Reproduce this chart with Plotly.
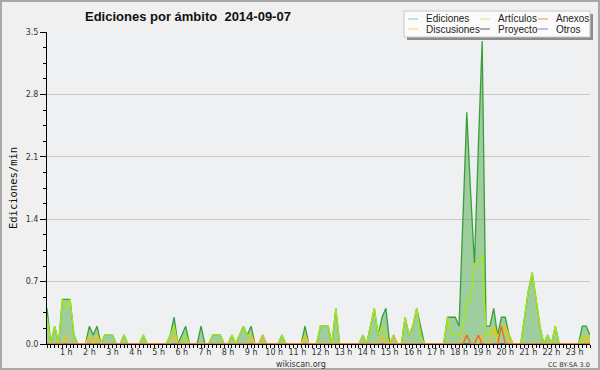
import plotly.graph_objects as go

# ---------------- data (edits per minute, 10-minute bins) ----------------
HOUR_TICKS = [1, 2, 3, 4, 5, 6, 7, 8, 9, 10, 11, 12, 13, 14, 15, 16, 17, 18, 19, 20, 21, 22, 23]
HOUR_LABELS = ["1 h", "2 h", "3 h", "4 h", "5 h", "6 h", "7 h", "8 h", "9 h", "10 h", "11 h", "12 h",
               "13 h", "14 h", "15 h", "16 h", "17 h", "18 h", "19 h", "20 h", "21 h", "22 h", "23 h"]

EDICIONES = [
    0.4, 0, 0.2, 0, 0.5, 0.5, 0.5, 0.1, 0, 0, 0, 0.2,
    0.1, 0.2, 0, 0.1, 0.1, 0.1, 0, 0, 0.1, 0, 0, 0,
    0, 0.1, 0, 0, 0, 0, 0, 0, 0.1, 0.3, 0, 0.1,
    0.2, 0, 0, 0, 0.2, 0, 0, 0.1, 0.1, 0.1, 0, 0,
    0.1, 0, 0.1, 0.2, 0.1, 0.2, 0, 0, 0.1, 0, 0, 0,
    0, 0.1, 0, 0, 0, 0, 0, 0.2, 0, 0, 0, 0.2,
    0.2, 0.2, 0, 0.4, 0, 0, 0, 0, 0, 0, 0.1, 0,
    0.2, 0.4, 0.1, 0.3, 0.4, 0, 0.1, 0, 0, 0.3, 0.1, 0.2,
    0.4, 0.2, 0, 0, 0, 0, 0, 0, 0.3, 0.3, 0.3, 0.2,
    1.4, 2.6, 1.7, 0.9, 2.2, 3.4, 0.2, 0.2, 0.4, 0.1, 0.3, 0.3,
    0.1, 0, 0, 0, 0.3, 0.6, 0.8, 0.5, 0.2, 0, 0.1, 0,
    0.2, 0, 0, 0, 0, 0, 0, 0.2, 0.2, 0.1,
]
ARTICULOS = [
    0.3, 0, 0.2, 0, 0.5, 0.4, 0.5, 0.1, 0, 0, 0, 0.1,
    0, 0.1, 0, 0.1, 0.1, 0.1, 0, 0, 0.1, 0, 0, 0,
    0, 0.1, 0, 0, 0, 0, 0, 0, 0.1, 0.2, 0, 0,
    0.1, 0, 0, 0, 0, 0, 0, 0.1, 0.1, 0.1, 0, 0,
    0.1, 0, 0.1, 0.2, 0.1, 0.1, 0, 0, 0, 0, 0, 0,
    0, 0.1, 0, 0, 0, 0, 0, 0.1, 0, 0, 0, 0.2,
    0.2, 0.2, 0, 0.4, 0, 0, 0, 0, 0, 0, 0.1, 0,
    0.2, 0.4, 0.1, 0.2, 0.1, 0, 0, 0, 0, 0.3, 0.1, 0.2,
    0.4, 0.1, 0, 0, 0, 0, 0, 0, 0.3, 0.1, 0.1, 0.1,
    0.2, 0.5, 0.5, 0.9, 0.9, 1.0, 0.1, 0.1, 0.2, 0.1, 0.1, 0.2,
    0.1, 0, 0, 0, 0.3, 0.6, 0.8, 0.5, 0.2, 0, 0.1, 0,
    0.2, 0, 0, 0, 0, 0, 0, 0.1, 0, 0.1,
]
DISCUSIONES = [
    0, 0, 0, 0, 0, 0.1, 0, 0, 0, 0, 0, 0.1,
    0, 0.1, 0, 0, 0, 0, 0, 0, 0, 0, 0, 0,
    0, 0, 0, 0, 0, 0, 0, 0, 0, 0.1, 0, 0,
    0, 0, 0, 0, 0, 0, 0, 0, 0, 0, 0, 0,
    0, 0, 0, 0, 0, 0.1, 0, 0, 0.1, 0, 0, 0,
    0, 0, 0, 0, 0, 0, 0, 0.1, 0, 0, 0, 0,
    0, 0, 0, 0, 0, 0, 0, 0, 0, 0, 0, 0,
    0, 0, 0, 0.1, 0, 0, 0.1, 0, 0, 0, 0, 0,
    0, 0, 0, 0, 0, 0, 0, 0, 0, 0, 0, 0,
    0.1, 0.1, 0, 0, 0, 0.1, 0, 0, 0.2, 0, 0.2, 0.2,
    0, 0, 0, 0, 0, 0, 0, 0, 0, 0, 0, 0,
    0, 0, 0, 0, 0, 0, 0, 0, 0.1, 0,
]
ANEXOS = [
    0, 0, 0, 0, 0, 0, 0, 0, 0, 0, 0, 0,
    0, 0, 0, 0, 0, 0, 0, 0, 0, 0, 0, 0,
    0, 0, 0, 0, 0, 0, 0, 0, 0, 0, 0, 0,
    0, 0, 0, 0, 0, 0, 0, 0, 0, 0, 0, 0,
    0, 0, 0, 0, 0, 0, 0, 0, 0, 0, 0, 0,
    0, 0, 0, 0, 0, 0, 0, 0, 0, 0, 0, 0,
    0, 0, 0, 0, 0, 0, 0, 0, 0, 0, 0, 0,
    0, 0, 0, 0, 0, 0, 0, 0, 0, 0, 0, 0,
    0, 0, 0, 0, 0, 0, 0, 0, 0, 0, 0, 0,
    0, 0.1, 0, 0, 0.1, 0, 0, 0, 0, 0, 0.2, 0,
    0, 0, 0, 0, 0, 0, 0, 0, 0, 0, 0, 0,
    0, 0, 0, 0, 0, 0, 0, 0, 0, 0,
]
PROYECTO = [
    0, 0, 0, 0, 0, 0, 0, 0, 0, 0, 0, 0,
    0, 0, 0, 0, 0, 0, 0, 0, 0, 0, 0, 0,
    0, 0, 0, 0, 0, 0, 0, 0, 0, 0, 0, 0,
    0, 0, 0, 0, 0, 0, 0, 0, 0, 0, 0, 0,
    0, 0, 0, 0, 0, 0, 0, 0, 0, 0, 0, 0,
    0, 0, 0, 0, 0, 0, 0, 0, 0, 0, 0, 0,
    0, 0, 0, 0, 0, 0, 0, 0, 0, 0, 0, 0,
    0, 0, 0, 0, 0, 0, 0, 0, 0, 0, 0, 0,
    0, 0, 0, 0, 0, 0, 0, 0, 0, 0, 0, 0,
    0, 0, 0, 0, 0, 0, 0, 0, 0, 0, 0, 0,
    0, 0, 0, 0, 0, 0, 0, 0, 0, 0, 0, 0,
    0, 0, 0, 0, 0, 0, 0, 0, 0, 0,
]
OTROS = list(PROYECTO)

# time of each 10-minute bin, in hours (first bin ends at 00:10)
TIMES = [(k + 1) / 6 for k in range(len(EDICIONES))]

# ---------------- styling ----------------
W, H = 600, 370
L, R, T, B = 47, 10, 32, 26
PW, PH = W - L - R, H - T - B

def px(xp):
    return (xp - L) / PW

def py(yp):
    return (H - B - yp) / PH

C_EDIC = "#3a9e3a"
C_ART = "#a8e61c"
C_DISC = "#f2c21c"
C_ANEX = "#ec6a2c"
C_PROY = "#505050"
C_OTR = "#9a4ae8"

fig = go.Figure()
fig.add_trace(go.Scatter(x=TIMES, y=EDICIONES, mode="lines", name="Ediciones",
                         line=dict(color=C_EDIC, width=1.3), fill="tozeroy",
                         fillcolor="rgba(80,172,74,0.50)", showlegend=False))
for name, vals, col in [("Otros", OTROS, C_OTR), ("Proyecto", PROYECTO, C_PROY),
                        ("Artículos", ARTICULOS, C_ART), ("Discusiones", DISCUSIONES, C_DISC),
                        ("Anexos", ANEXOS, C_ANEX)]:
    fig.add_trace(go.Scatter(x=TIMES, y=vals, mode="lines", name=name,
                             line=dict(color=col, width=1.4), showlegend=False))

TICKFONT = dict(family="DejaVu Sans", size=8, color="#333333")

fig.update_layout(
    width=W, height=H,
    margin=dict(l=L, r=R, t=T, b=B, pad=0),
    paper_bgcolor="#f0f0f0",
    plot_bgcolor="#eef0f2",
    showlegend=False,
    xaxis=dict(
        range=[TIMES[0], TIMES[-1]],
        tickmode="array", tickvals=HOUR_TICKS, ticktext=HOUR_LABELS,
        ticks="outside", ticklen=3, tickcolor="black", tickwidth=1,
        ticklabelstandoff=-3,
        minor=dict(dtick=1 / 6, tick0=0, ticks="outside", ticklen=3, tickcolor="black"),
        showline=True, linecolor="black", linewidth=1,
        showgrid=False, zeroline=False,
        tickfont=TICKFONT,
    ),
    yaxis=dict(
        range=[0, 3.5], dtick=0.7, tick0=0, tickformat=".1f",
        ticks="outside", ticklen=6, tickcolor="black", tickwidth=1,
        minor=dict(dtick=0.175, tick0=0, ticks="outside", ticklen=3, tickcolor="black"),
        showline=True, linecolor="black", linewidth=1,
        showgrid=True, gridcolor="#c8c8c8", gridwidth=1, zeroline=False,
        tickfont=TICKFONT,
        title=dict(text="Ediciones/min", font=dict(family="DejaVu Sans Mono", size=10.5, color="#111"),
                   standoff=5),
    ),
)

ann = []
ann.append(dict(text="<b>Ediciones por ámbito\u00a0 2014-09-07</b>", x=px(188), y=py(17),
                xref="paper", yref="paper", showarrow=False, xanchor="center", yanchor="middle",
                font=dict(family="Liberation Sans", size=13, color="#111")))
ann.append(dict(text="wikiscan.org", x=px(301), y=py(364), xref="paper", yref="paper",
                showarrow=False, xanchor="center", yanchor="middle",
                font=dict(family="DejaVu Sans", size=8, color="#333")))
ann.append(dict(text="CC BY-SA 3.0", x=px(569), y=py(365), xref="paper", yref="paper",
                showarrow=False, xanchor="center", yanchor="middle",
                font=dict(family="DejaVu Sans", size=6.5, color="#333")))

shapes = []
# outer frame
shapes.append(dict(type="rect", xref="paper", yref="paper", x0=px(1), x1=px(599), y0=py(369), y1=py(1),
                   line=dict(color="#a8a8a8", width=2), fillcolor="rgba(0,0,0,0)", layer="above"))
# legend box with shadow
shapes.append(dict(type="rect", xref="paper", yref="paper", x0=px(407), x1=px(593), y0=py(40), y1=py(14),
                   line=dict(width=0), fillcolor="#8c8c8c", layer="above"))
shapes.append(dict(type="rect", xref="paper", yref="paper", x0=px(404), x1=px(590), y0=py(37), y1=py(11),
                   line=dict(color="#c8c8c8", width=1), fillcolor="#fbfbfb", layer="above"))

LEG = [("Ediciones", "#8fd08f", 408, 19), ("Artículos", "#cdee7a", 480, 19), ("Anexos", "#ef8a5a", 538, 19),
       ("Discusiones", "#f6d46a", 408, 29), ("Proyecto", "#606060", 480, 29), ("Otros", "#a070ee", 538, 29)]
for name, col, x0, y0 in LEG:
    shapes.append(dict(type="line", xref="paper", yref="paper", x0=px(x0), x1=px(x0 + 10),
                       y0=py(y0), y1=py(y0), line=dict(color=col, width=1), layer="above"))
    ann.append(dict(text=name, x=px(x0 + 16), y=py(y0), xref="paper", yref="paper", showarrow=False,
                    xanchor="left", yanchor="middle",
                    font=dict(family="Liberation Sans", size=10, color="#222")))

fig.update_layout(annotations=ann, shapes=shapes)
fig.write_html("out.html", config={"displayModeBar": False},
               post_script="document.body.style.margin='0';document.body.style.padding='0';")
